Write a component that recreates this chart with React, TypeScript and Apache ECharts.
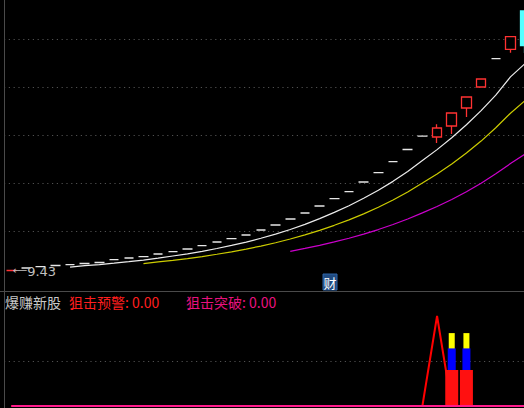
import React, { useEffect, useRef } from "react";
import * as echarts from "echarts";

// ---- data ----
const categories = [
  "1", "2", "3", "4", "5", "6", "7", "8", "9", "10", "11", "12",
  "13", "14", "15", "16", "17", "18", "19", "20", "21", "22", "23", "24",
  "25", "26", "27", "28", "29", "30", "31", "32", "33", "34", "35", "36",
];
const opens = [
  9.43, 10.73, 11.41, 12.03, 12.45, 13.07, 13.59, 15.05, 15.94, 16.61, 18.02, 19.22,
  20.63, 22.34, 24.27, 25.99, 27.92, 30.52, 33.13, 36.25, 39.38, 43.02, 46.82, 50.47,
  55.52, 60.36, 66.09, 72.45, 79.38, 78.96, 84.69, 94.06, 105.0, 119.74, 124.64, 144.58,
];
const closes = [
  9.43, 10.73, 11.41, 12.03, 12.45, 13.07, 13.59, 15.05, 15.94, 16.61, 18.02, 19.22,
  20.63, 22.34, 24.27, 25.99, 27.92, 30.52, 33.13, 36.25, 39.38, 43.02, 46.82, 50.47,
  55.52, 60.36, 66.09, 72.45, 79.38, 83.65, 91.46, 99.79, 109.17, 119.74, 131.2, 126.51,
];
const lows = [
  9.43, 10.73, 11.41, 12.03, 12.45, 13.07, 13.59, 15.05, 15.94, 16.61, 18.02, 19.22,
  20.63, 22.34, 24.27, 25.99, 27.92, 30.52, 33.13, 36.25, 39.38, 43.02, 46.82, 50.47,
  55.52, 60.36, 66.09, 72.45, 79.38, 75.83, 80.52, 89.38, 105.0, 119.74, 122.86, 122.71,
];
const highs = [
  9.43, 10.73, 11.41, 12.03, 12.45, 13.07, 13.59, 15.05, 15.94, 16.61, 18.02, 19.22,
  20.63, 22.34, 24.27, 25.99, 27.92, 30.52, 33.13, 36.25, 39.38, 43.02, 46.82, 50.47,
  55.52, 60.36, 66.09, 72.45, 79.38, 85.57, 91.46, 99.79, 109.17, 119.74, 131.2, 144.58,
];
const maPeriods = [5, 10, 20];
const maColors = ["#ececec", "#cccc00", "#cc00cc"];

// 爆赚新股 sub-panel
const warnLine = [
  0, 0, 0, 0, 0, 0, 0, 0, 0, 0, 0, 0,
  0, 0, 0, 0, 0, 0, 0, 0, 0, 0, 0, 0,
  0, 0, 0, 0, 0, 100, 0, 0, 0, 0, 0, 0,
];
const breakLine = [
  0, 0, 0, 0, 0, 0, 0, 0, 0, 0, 0, 0,
  0, 0, 0, 0, 0, 0, 0, 0, 0, 0, 0, 0,
  0, 0, 0, 0, 0, 0, 0, 0, 0, 0, 0, 0,
];
const stickRed = [
  null, null, null, null, null, null, null, null, null, null, null, null,
  null, null, null, null, null, null, null, null, null, null, null, null,
  null, null, null, null, null, null, 40, 40, null, null, null, null,
];
const stickBlue = [
  null, null, null, null, null, null, null, null, null, null, null, null,
  null, null, null, null, null, null, null, null, null, null, null, null,
  null, null, null, null, null, null, 64, 64, null, null, null, null,
];
const stickYellow = [
  null, null, null, null, null, null, null, null, null, null, null, null,
  null, null, null, null, null, null, null, null, null, null, null, null,
  null, null, null, null, null, null, 81, 81, null, null, null, null,
];

function movingAverage(values: number[], n: number) {
  return values.map((_, i) => {
    if (i < n - 1) return null;
    let s = 0;
    for (let k = i - n + 1; k <= i; k++) s += values[k];
    return +(s / n).toFixed(3);
  });
}

export default function App() {
  const ref = useRef<HTMLDivElement>(null);

  useEffect(() => {
    const chart = echarts.init(ref.current as HTMLDivElement, null, { renderer: "svg" });

    const catW = 14.68;
    const gridW = catW * categories.length;
    const hiddenCat = (gridIndex: number) => ({
      type: "category",
      data: categories,
      gridIndex,
      boundaryGap: true,
      axisLine: { show: false },
      axisTick: { show: false },
      axisLabel: { show: false },
      splitLine: { show: false },
    });
    const dotted = { type: [1.2, 3.6], color: "#505050", width: 1 };

    const candleData = categories.map((_, i) => {
      const v = [opens[i], closes[i], lows[i], highs[i]];
      return i === 0 ? { value: v, itemStyle: { borderColorDoji: "#ff3232" } } : v;
    });

    const cjk = '"Noto Sans CJK SC", "Noto Sans", sans-serif';

    chart.setOption({
      animation: false,
      backgroundColor: "#000",
      grid: [
        { left: 4, top: 0, width: gridW, height: 279 },
        { left: 4, top: 316, width: gridW, height: 90 },
      ],
      xAxis: [hiddenCat(0), hiddenCat(1), hiddenCat(1), hiddenCat(1)],
      yAxis: [
        {
          type: "value", gridIndex: 0, min: 5, max: 5 + 279 / 1.92,
          axisLine: { show: false }, axisTick: { show: false },
          axisLabel: { show: false }, splitLine: { show: false },
        },
        {
          type: "value", gridIndex: 0, min: 0, max: 279 / 48, interval: 1,
          axisLine: { show: false }, axisTick: { show: false }, axisLabel: { show: false },
          splitLine: { show: true, showMinLine: false, showMaxLine: false, lineStyle: dotted },
        },
        {
          type: "value", gridIndex: 1, min: 0, max: 100, interval: 50,
          axisLine: { show: false }, axisTick: { show: false }, axisLabel: { show: false },
          splitLine: { show: true, showMinLine: false, showMaxLine: false, lineStyle: dotted },
        },
      ],
      series: [
        ...maPeriods.map((p, k) => ({
          type: "line",
          name: "MA" + p,
          xAxisIndex: 0,
          yAxisIndex: 0,
          data: movingAverage(closes, p),
          showSymbol: false,
          symbol: "none",
          lineStyle: { color: maColors[k], width: 1.2 },
          z: 3,
        })),
        {
          type: "candlestick",
          name: "K",
          xAxisIndex: 0,
          yAxisIndex: 0,
          data: candleData,
          barWidth: 10,
          z: 4,
          itemStyle: {
            color: "#000000",
            color0: "#54ffff",
            borderColor: "#ff3232",
            borderColor0: "#54ffff",
            borderColorDoji: "#e6e6e6",
            borderWidth: 1.3,
          },
          markPoint: {
            symbol: "circle",
            symbolSize: 1,
            itemStyle: { color: "rgba(0,0,0,0)" },
            data: [{ type: "min", valueDim: "lowest" }],
            label: {
              show: true,
              position: "right",
              distance: 1,
              color: "#c0c0c0",
              formatter: (p: any) => "{a|\u27F5}{b|" + Number(p.value).toFixed(2) + "}",
              rich: {
                a: { fontSize: 10, color: "#c0c0c0", fontFamily: '"DejaVu Sans", sans-serif' },
                b: { fontSize: 13, color: "#c0c0c0", fontFamily: '"DejaVu Sans", sans-serif', padding: [2, 0, 0, 0] },
              },
            },
          },
        },
        {
          type: "line",
          name: "狙击预警",
          xAxisIndex: 1,
          yAxisIndex: 2,
          data: warnLine,
          showSymbol: false,
          symbol: "none",
          clip: false,
          lineStyle: { color: "#ff0000", width: 2 },
          z: 3,
        },
        {
          type: "bar",
          xAxisIndex: 2,
          yAxisIndex: 2,
          data: stickYellow,
          barWidth: 6,
          itemStyle: { color: "#ffff00" },
          z: 4,
        },
        {
          type: "bar",
          xAxisIndex: 3,
          yAxisIndex: 2,
          data: stickBlue,
          barWidth: 8,
          itemStyle: { color: "#0000ff" },
          z: 5,
        },
        {
          type: "bar",
          xAxisIndex: 1,
          yAxisIndex: 2,
          data: stickRed,
          barWidth: 13,
          itemStyle: { color: "#ff1010" },
          z: 6,
        },
        {
          type: "line",
          name: "狙击突破",
          xAxisIndex: 1,
          yAxisIndex: 2,
          data: breakLine,
          showSymbol: false,
          symbol: "none",
          clip: false,
          lineStyle: { color: "#ff1a8c", width: 2 },
          z: 7,
        },
      ],
      graphic: [
        { type: "line", shape: { x1: 4.5, y1: 0, x2: 4.5, y2: 408 }, style: { stroke: "#4a4a4a", lineWidth: 1 }, z: 1 },
        { type: "line", shape: { x1: 0, y1: 291.5, x2: 540, y2: 291.5 }, style: { stroke: "#4a4a4a", lineWidth: 1 }, z: 1 },
        {
          type: "text", x: 5, y: 301.5,
          style: { text: "爆赚新股", fill: "#c8c8c8", font: `14px ${cjk}`, verticalAlign: "middle" },
        },
        {
          type: "text", x: 69, y: 301.5,
          style: {
            text: "狙击预警: " + warnLine[warnLine.length - 1].toFixed(2),
            fill: "#ff1e1e", font: `14px ${cjk}`, verticalAlign: "middle",
          },
        },
        {
          type: "text", x: 186, y: 301.5,
          style: {
            text: "狙击突破: " + breakLine[breakLine.length - 1].toFixed(2),
            fill: "#e8117f", font: `14px ${cjk}`, verticalAlign: "middle",
          },
        },
        {
          type: "group", x: 323, y: 274,
          children: [
            { type: "rect", shape: { x: 0, y: 0, width: 14, height: 16 }, style: { fill: "#1f4a80", stroke: "#2e64a8", lineWidth: 1 } },
            { type: "text", x: 7, y: 8.5, style: { text: "财", fill: "#ffffff", font: `13px ${cjk}`, align: "center", verticalAlign: "middle" } },
          ],
        },
      ],
    });

    return () => chart.dispose();
  }, []);

  return (
    <div
      style={{
        position: "fixed", left: 0, top: 0, width: 524, height: 408,
        overflow: "hidden", background: "#000",
      }}
    >
      <div ref={ref} style={{ width: 540, height: 408 }} />
    </div>
  );
}
